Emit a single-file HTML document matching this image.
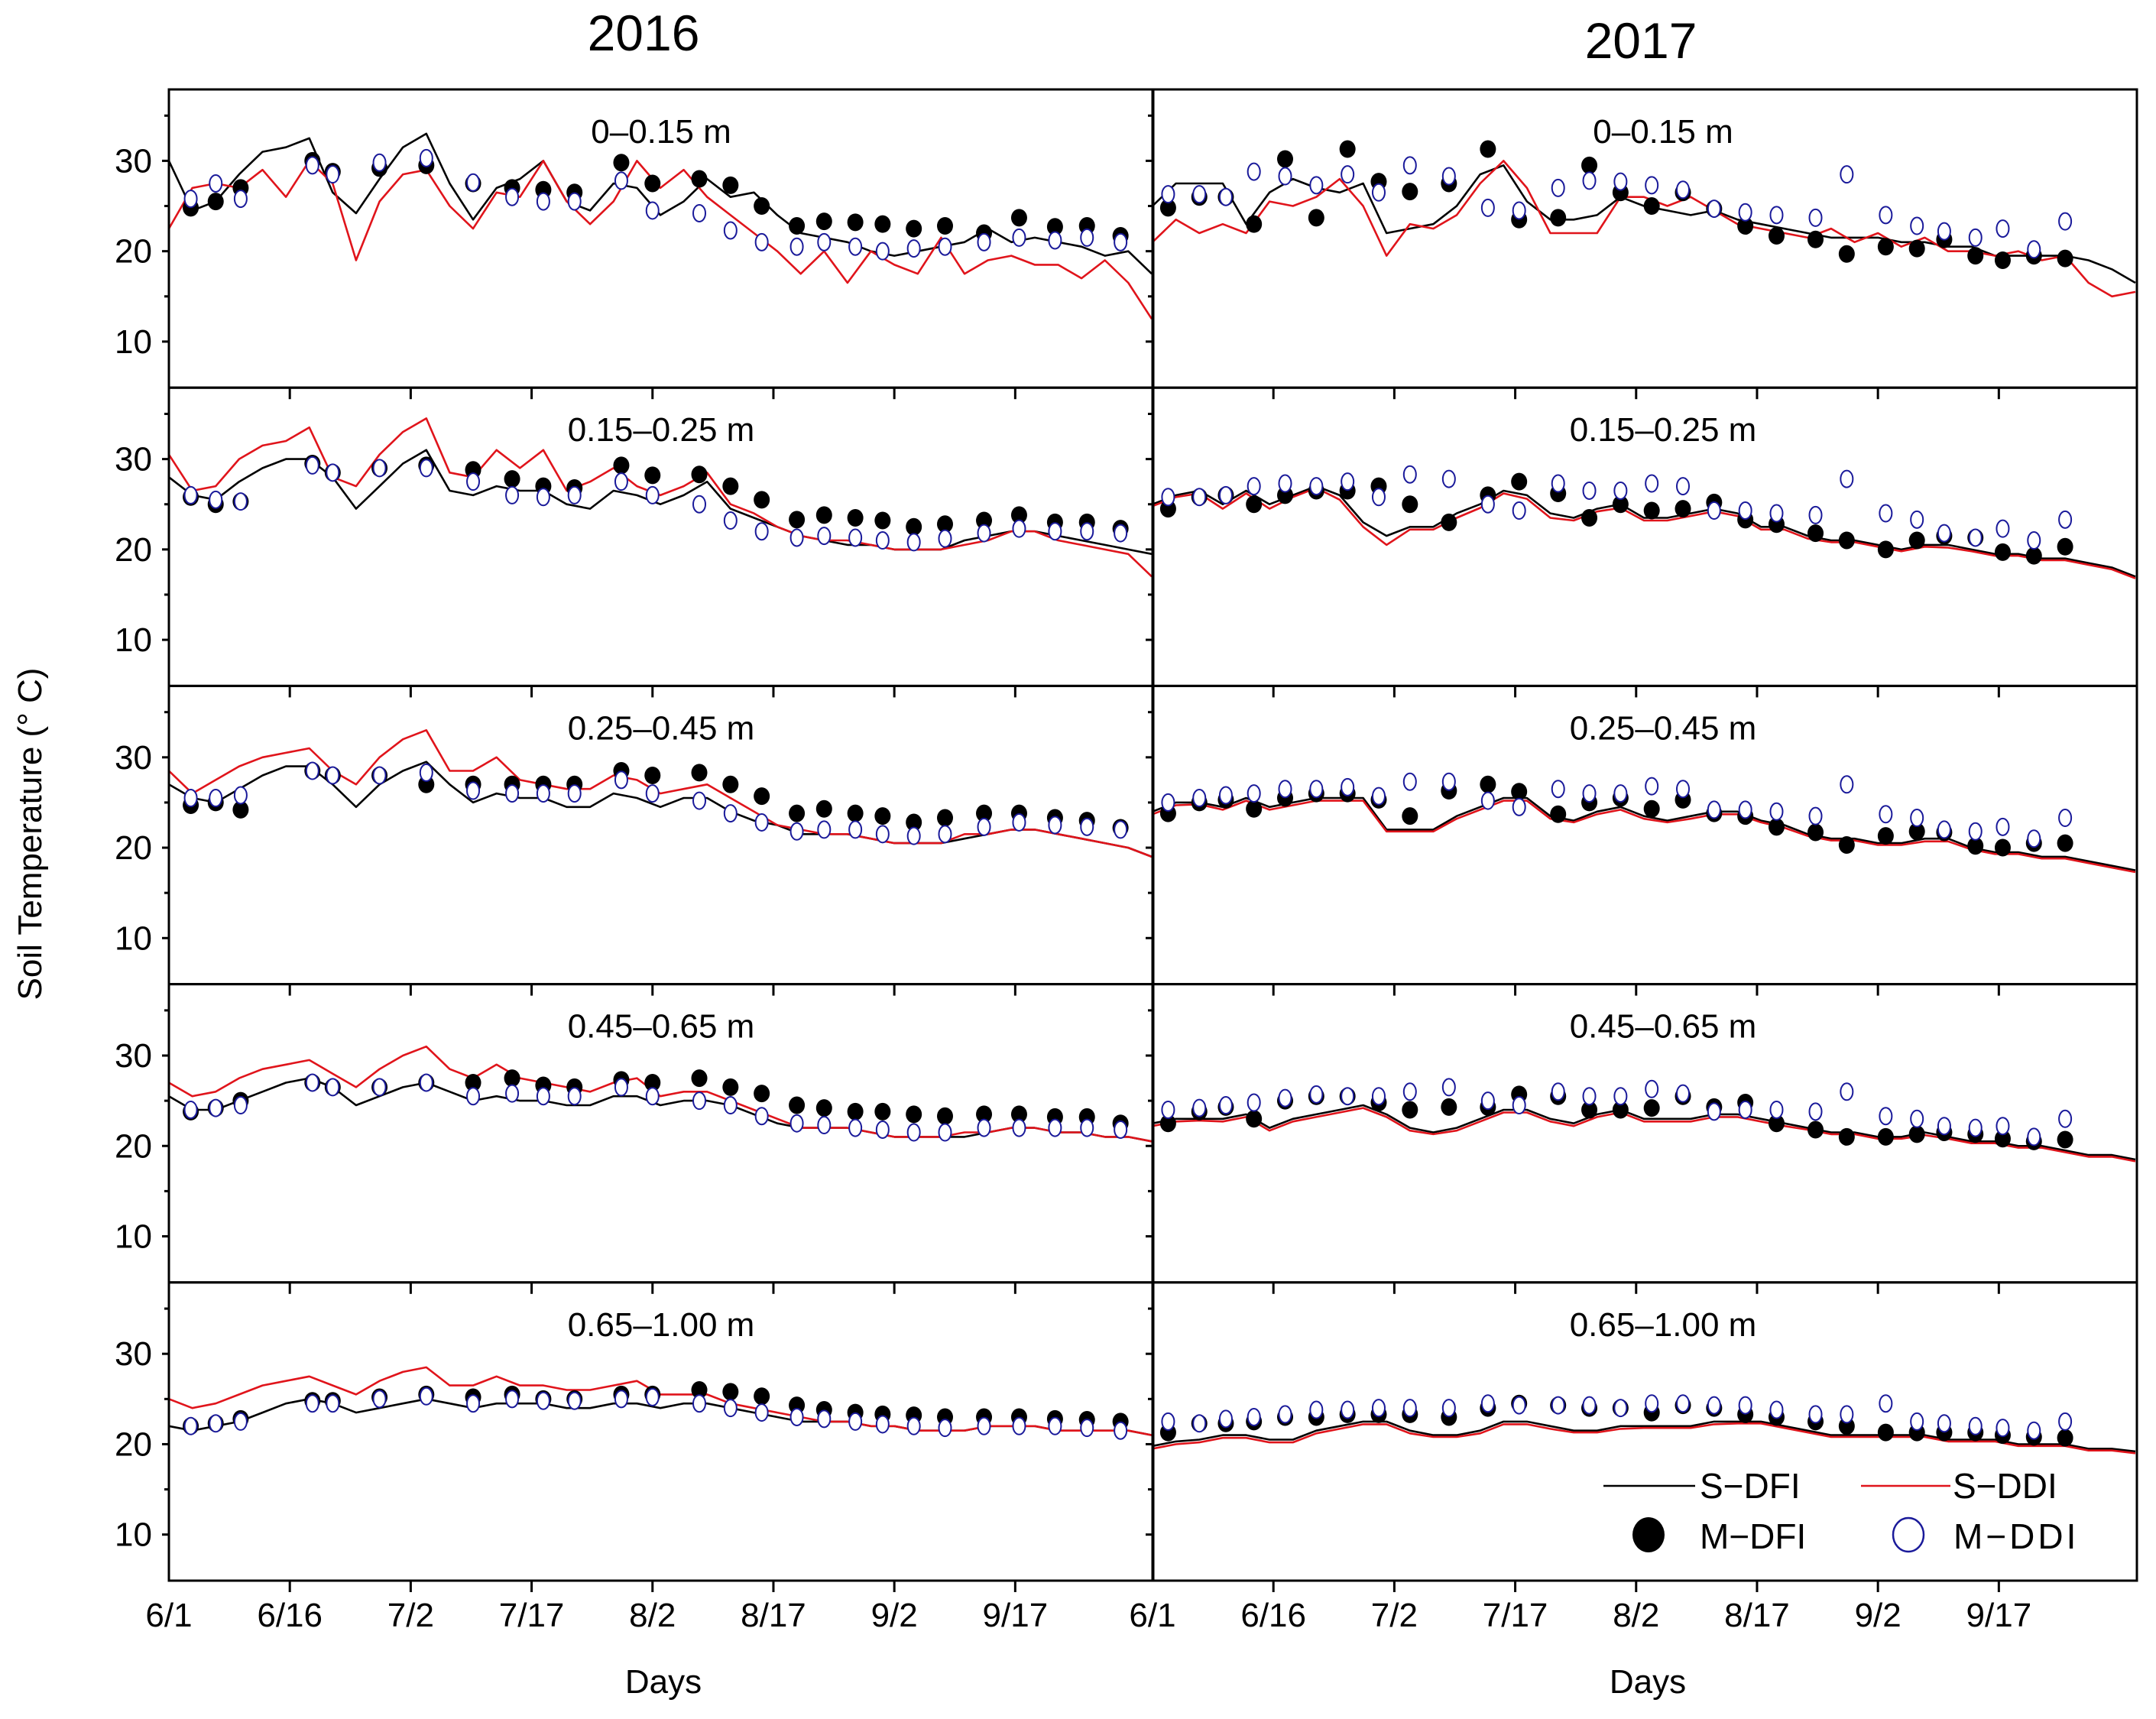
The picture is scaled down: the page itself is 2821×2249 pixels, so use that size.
<!DOCTYPE html>
<html><head><meta charset="utf-8">
<style>
html,body{margin:0;padding:0;background:#fff;}
svg{display:block;font-family:"Liberation Sans Narrow","Liberation Sans",sans-serif;}
</style></head>
<body>
<svg id="chart" width="2821" height="2249" viewBox="0 0 2821 2249" xmlns="http://www.w3.org/2000/svg"></svg>
<script>
// ---- data ----
const lineDays = [0,3,6,9,12,15,18,21,24,27,30,33,36,39,42,45,48,51,54,57,60,63,66,69,72,75,78,81,84,87,90,93,96,99,102,105,108,111,114,117,120,123,126];
const mDays2016 = [2.8,6,9.2,18.4,21,27,33,39,44,48,52,58,62,68,72,76,80.5,84,88,91.5,95.5,99.5,104.5,109,113.6,117.7,122];
const mDays2017 = [2,6,9.4,13,17,21,25,29,33,38,43,47,52,56,60,64,68,72,76,80,85,89,94,98,101.5,105.5,109,113,117];
const xTickLabels2016 = ["6/1","6/16","7/2","7/17","8/2","8/17","9/2","9/17"];
const xTickLabels2017 = ["6/1","6/16","7/2","7/17","8/2","8/17","9/2","9/17"];
const yTicks = [10,20,30];
const depths = ["0\u20130.15 m","0.15\u20130.25 m","0.25\u20130.45 m","0.45\u20130.65 m","0.65\u20131.00 m"];

// 2016
const sdfi2016_1 = [30,24.5,25.5,28.5,31,31.5,32.5,26.5,24.2,28,31.5,33,27.5,23.5,27,28,30,25.5,24.5,27.5,27,24,25.5,28,26,26.5,24,22,21.5,21,20,19.5,20,20.5,21,22.5,21,21.5,21,20.5,19.5,20,17.5];
const sddi2016_1 = [22.5,27,27.5,27,29,26,30,27.5,19,25.5,28.5,29,25,22.5,26.5,26,30,25.5,23,25.5,30,27,29,26,24,22,20,17.5,20,16.5,20,18.5,17.5,21.5,17.5,19,19.5,18.5,18.5,17,19,16.5,12.5];
const mdfi2016_1 = [24.8,25.5,27,30,28.8,29.2,29.5,27.5,27,26.8,26.5,29.8,27.5,28,27.3,25,22.8,23.3,23.2,23,22.5,22.8,22,23.7,22.7,22.8,21.7];
const mddi2016_1 = [25.8,27.5,25.8,29.5,28.5,29.8,30.3,27.6,26,25.5,25.5,27.8,24.5,24.2,22.3,21,20.5,21,20.5,20,20.3,20.5,21,21.5,21.2,21.5,21];

const sdfi2016_2 = [28,26,25.5,27.5,29,30,30,28,24.5,27,29.5,31,26.5,26,27,26.5,26.5,25,24.5,26.5,26,25,26,27.5,24.5,23.5,22.5,21.5,21,20.5,20.5,20,20,20,21,21.5,22,22,21.5,21,20.5,20,19.5];
const sddi2016_2 = [30.5,26.5,27,30,31.5,32,33.5,28,27,30.5,33,34.5,28.5,28,31,29,31,26.5,27.5,29,27,26,27,28.5,25,24,22.5,21.5,21,21,20.5,20,20,20,20.5,21,22,22,21,20.5,20,19.5,17];
const mdfi2016_2 = [25.8,25,25.3,29.5,28.5,29,29.3,28.8,27.8,27,26.8,29.3,28.2,28.3,27,25.5,23.3,23.8,23.5,23.2,22.5,22.8,23.2,23.8,23,23,22.3];
const mddi2016_2 = [26,25.5,25.3,29.3,28.5,29,29,27.5,26,25.8,26,27.5,26,25,23.2,22,21.3,21.5,21.3,21,20.8,21.2,21.8,22.3,22,22,21.8];

const sdfi2016_3 = [27,25.5,25,26.5,28,29,29,27,24.5,27,28.5,29.5,27,25,26,25.5,25.5,24.5,24.5,26,25.5,24.5,25.5,25.5,24,23,22.5,21.5,21.5,21.5,21,20.5,20.5,20.5,21,21.5,22,22,21.5,21,20.5,20,19];
const sddi2016_3 = [28.5,26,27.5,29,30,30.5,31,28.5,27,30,32,33,28.5,28.5,30,27.5,27,26.5,26.5,28,27.5,26,26.5,27,25.5,24,22.5,22,21.5,21.5,21,20.5,20.5,20.5,21.5,21.5,22,22,21.5,21,20.5,20,19];
const mdfi2016_3 = [24.7,25,24.2,28.5,28,28,27,27,27,27,27,28.5,28,28.3,27,25.7,23.8,24.3,23.8,23.5,22.8,23.3,23.8,23.8,23.3,23,22.2];
const mddi2016_3 = [25.5,25.5,25.8,28.5,28,28,28.3,26.3,26,26,26,27.5,26,25.2,23.8,22.8,21.8,22,22,21.5,21.3,21.5,22.3,22.8,22.5,22.3,22];

const sdfi2016_4 = [25.5,24,24,25,26,27,27.5,26.5,24.5,25.5,26.5,27,26,25,25.5,25,25,24.5,24.5,25.5,25.5,24.5,25,25,24.5,23.5,22.5,22,22,22,21.5,21,21,21,21,21.5,22,22,21.5,21.5,21,21,20.5];
const sddi2016_4 = [27,25.5,26,27.5,28.5,29,29.5,28,26.5,28.5,30,31,28.5,27.5,29,27.5,27,26.5,26,27,27.5,25.5,26,26,25,24,23,22,22,22,21.5,21,21,21,21.5,21.5,22,22,21.5,21.5,21,21,20.5];
const mdfi2016_4 = [23.8,24.2,25,27,26.5,26.5,27,27,27.5,26.7,26.5,27.3,27,27.5,26.5,25.8,24.5,24.2,23.8,23.8,23.5,23.3,23.5,23.5,23.2,23.2,22.5];
const mddi2016_4 = [24,24.2,24.5,27,26.5,26.5,27,25.5,25.8,25.5,25.5,26.5,25.5,25,24.5,23.3,22.5,22.3,22,21.8,21.5,21.5,22,22,22,22,21.8];

const sdfi2016_5 = [22,21.5,22,22.5,23.5,24.5,25,24.5,23.5,24,24.5,25,24.5,24,24.5,24.5,24.5,24,24,24.5,24.5,24,24.5,24.5,24,23.5,23,22.5,22.5,22.5,22,22,21.5,21.5,21.5,22,22,22,21.5,21.5,21.5,21.5,21];
const sddi2016_5 = [25,24,24.5,25.5,26.5,27,27.5,26.5,25.5,27,28,28.5,26.5,26.5,27.5,26.5,26.5,26,26,26.5,27,25.5,25.5,25.5,24.5,24,23.5,23,22.5,22.5,22,22,21.5,21.5,21.5,22,22,22,21.5,21.5,21.5,21.5,21];
const mdfi2016_5 = [22,22.3,22.8,24.8,24.8,25.2,25.5,25.2,25.5,25,25,25.5,25.5,26,25.8,25.3,24.3,23.8,23.5,23.3,23.2,23,23,23,22.8,22.7,22.5];
const mddi2016_5 = [22,22.3,22.5,24.5,24.5,25,25.3,24.5,25,24.8,24.8,25,25.2,24.5,24,23.5,23,22.8,22.5,22.2,22,21.8,22,22,22,21.8,21.5];

// 2017
const sdfi2017_1 = [25,27.5,27.5,27.5,23,26.5,28,27,26.5,27.5,22,22.5,23,25,28.5,29.5,25.5,23.5,23.5,24,26,25,24.5,24,24.5,23.5,23,22.5,22,21.5,21.5,21.5,21,21,20.5,20.5,19.5,19.5,19.5,19.5,19,18,16.5];
const sddi2017_1 = [21,23.5,22,23,22,25.5,25,26,28,25,19.5,23,22.5,24,27.5,30,27,22,22,22,26,26,25,26,24.5,23,22.5,22,21.5,22.5,21,22,20.5,21.5,20,20,19.5,20,19,19.5,16.5,15,15.5];
const mdfi2017_1 = [24.8,26,26,23,30.2,23.7,31.3,27.7,26.6,27.5,31.3,23.5,23.7,29.5,26.5,25,26.5,24.7,22.8,21.7,21.3,19.7,20.5,20.3,21.3,19.5,19,19.5,19.2];
const mddi2017_1 = [26.3,26.3,26,28.8,28.3,27.3,28.5,26.5,29.5,28.3,24.8,24.5,27,27.8,27.7,27.3,26.8,24.7,24.3,24,23.7,28.5,24,22.8,22.2,21.5,22.5,20.2,23.3];

const sdfi2017_2 = [25,26,26.5,25,26.5,25,26,27,26,23,21.5,22.5,22.5,24,25,26.5,26,24,23.5,24.5,25,23.5,23.5,24,24.5,24,22.5,22.5,21.5,21,21,20.5,20,20.5,20.5,20,19.5,19.5,19,19,18.5,18,17];
const sddi2017_2 = [24.8,25.8,26.2,24.5,26.2,24.5,25.8,26.8,25.5,22.5,20.5,22.2,22.2,23.5,24.6,26.2,25.6,23.5,23.2,24.2,24.6,23.2,23.2,23.7,24.2,23.7,22.2,22.2,21.2,20.8,20.8,20.3,19.8,20.3,20.2,19.8,19.3,19.3,18.8,18.8,18.3,17.8,16.8];
const mdfi2017_2 = [24.5,25.8,26,25,26,26.5,26.5,27,25,23,26,27.5,26.2,23.5,25,24.3,24.5,25.2,23.3,22.8,21.8,21,20,21,21.5,21.3,19.7,19.3,20.3];
const mddi2017_2 = [25.8,25.8,26,27,27.3,27,27.5,25.8,28.3,27.8,25,24.3,27.3,26.5,26.5,27.3,27,24.3,24.3,24,23.8,27.8,24,23.3,21.8,21.3,22.3,21,23.3];

const sdfi2017_3 = [24,25,25,24.5,25.5,24.5,25,25.5,25.5,25.5,22,22,22,23.5,24.5,25.5,25.5,23.5,23,24,24.5,23.5,23,23.5,24,24,23,22.5,21.5,21,21,20.5,20.5,21,21,20,19.5,19.5,19,19,18.5,18,17.5];
const sddi2017_3 = [23.7,24.7,24.8,24.2,25.2,24.2,24.7,25.2,25.2,25.2,21.8,21.8,21.8,23.2,24.2,25.2,25.2,23.2,22.8,23.7,24.2,23.2,22.8,23.2,23.7,23.7,22.8,22.2,21.3,20.8,20.8,20.3,20.3,20.7,20.7,19.8,19.3,19.3,18.8,18.8,18.3,17.8,17.3];
const mdfi2017_3 = [23.8,25,25.3,24.3,25.5,26,26,25.3,23.5,26.3,27,26.2,23.7,25,25.5,24.3,25.3,23.8,23.5,22.3,21.7,20.3,21.3,21.8,21.7,20.2,20,20.5,20.5];
const mddi2017_3 = [25,25.5,25.8,26,26.5,26.5,26.7,25.7,27.3,27.3,25.2,24.5,26.5,26,26,26.8,26.5,24.2,24.2,24,23.5,27,23.7,23.3,22,21.8,22.3,21,23.3];

const sdfi2017_4 = [22.5,23,23,23,23.5,22,23,23.5,24,24.5,23.5,22,21.5,22,23,24,24,23,22.5,23.5,24,23,23,23,23.5,23.5,23,22.5,22,21.5,21.5,21,21,21.5,21,20.5,20.5,20,20,19.5,19,19,18.5];
const sddi2017_4 = [22.2,22.7,22.8,22.7,23.2,21.7,22.7,23.2,23.7,24.2,23.2,21.7,21.3,21.7,22.7,23.7,23.7,22.7,22.2,23.2,23.7,22.7,22.7,22.7,23.2,23.2,22.7,22.2,21.8,21.3,21.3,20.8,20.8,21.2,20.8,20.3,20.3,19.8,19.8,19.3,18.8,18.8,18.3];
const mdfi2017_4 = [22.5,23.8,24.3,23,25,25.5,25.5,24.8,24,24.3,24.3,25.7,25.5,24,24,24.2,25.5,24.3,24.8,22.5,21.8,21,21,21.3,21.5,21.3,20.8,20.5,20.7];
const mddi2017_4 = [24,24.2,24.5,24.8,25.3,25.7,25.5,25.5,26,26.5,25,24.5,26,25.5,25.5,26.3,25.8,23.8,24,24,23.8,26,23.3,23,22.2,22,22.2,21,23];

const sdfi2017_5 = [19.8,20.3,20.5,21,21,20.5,20.5,21.5,22,22.5,22.5,21.5,21,21,21.5,22.5,22.5,22,21.5,21.5,22,22,22,22,22.5,22.5,22.5,22,21.5,21,21,21,21,21,20.5,20.5,20.5,20,20,20,19.5,19.5,19.2];
const sddi2017_5 = [19.5,20,20.2,20.7,20.7,20.2,20.2,21.2,21.7,22.2,22.2,21.2,20.8,20.8,21.2,22.2,22.2,21.7,21.3,21.3,21.7,21.8,21.8,21.8,22.2,22.3,22.3,21.8,21.3,20.8,20.8,20.8,20.8,20.8,20.3,20.3,20.3,19.8,19.8,19.8,19.3,19.3,19];
const mdfi2017_5 = [21.3,22.3,22.3,22.5,23,23,23.3,23.3,23.3,23,24,24.5,24.3,24,24,23.5,24.3,24,23.3,23,22.5,22,21.3,21.3,21.3,21.3,21,20.8,20.7];
const mddi2017_5 = [22.5,22.3,22.8,23,23.3,23.8,23.8,24,24,24,24.5,24.3,24.3,24.3,24,24.5,24.5,24.3,24.3,23.8,23.3,23.3,24.5,22.5,22.3,22,21.8,21.5,22.5];

const panels2016 = [
 [sdfi2016_1,sddi2016_1,mdfi2016_1,mddi2016_1],[sdfi2016_2,sddi2016_2,mdfi2016_2,mddi2016_2],
 [sdfi2016_3,sddi2016_3,mdfi2016_3,mddi2016_3],[sdfi2016_4,sddi2016_4,mdfi2016_4,mddi2016_4],
 [sdfi2016_5,sddi2016_5,mdfi2016_5,mddi2016_5]];
const panels2017 = [
 [sdfi2017_1,sddi2017_1,mdfi2017_1,mddi2017_1],[sdfi2017_2,sddi2017_2,mdfi2017_2,mddi2017_2],
 [sdfi2017_3,sddi2017_3,mdfi2017_3,mddi2017_3],[sdfi2017_4,sddi2017_4,mdfi2017_4,mddi2017_4],
 [sdfi2017_5,sddi2017_5,mdfi2017_5,mddi2017_5]];

// ---- layout ----
const svg = document.getElementById('chart');
const NS = 'http://www.w3.org/2000/svg';
const colX = [221, 1508];
const colW = 1288;
const panelTop = 117, panelH = 390.2;
const yMin = 4.9, yMax = 37.9, dMax = 126.2;
const tickStep = colW / dMax * 15.5;

function mk(tag, attrs, parent) {
  const e = document.createElementNS(NS, tag);
  for (const k in attrs) e.setAttribute(k, attrs[k]);
  (parent || svg).appendChild(e);
  return e;
}
function xs(col, d) { return colX[col] + d / dMax * colW; }
function ys(row, v) { return panelTop + row * panelH + (yMax - v) / (yMax - yMin) * panelH; }

function drawPanel(col, row, series, mdays) {
  const g = mk('g', {});
  
  
  const x0 = colX[col], y0 = panelTop + row * panelH;
  for (let v = 10; v <= 35; v += 5) {
    const len = (v % 10 === 0) ? 9 : 6;
    const t = mk('line', {x1: x0 - len, x2: x0, y1: ys(row, v), y2: ys(row, v), stroke: '#000', 'stroke-width': 3}, g);
    
    
    if (col === 0 && yTicks.includes(v)) {
      const tl = mk('text', {x: 199, y: ys(row, v) + 15, 'text-anchor': 'end', 'font-size': 44}, g);
      tl.textContent = v;
      
      
    }
  }
  for (let k = 1; k < 8; k++) {
    const tx = x0 + k * tickStep;
    const t = mk('line', {x1: tx, x2: tx, y1: y0 + panelH, y2: y0 + panelH + 15, stroke: '#000', 'stroke-width': 3}, g);
    
    
  }
  const dl = mk('text', {x: x0 + colW / 2 + (col ? 24 : 0), y: y0 + 70, 'text-anchor': 'middle', 'font-size': 44}, g);
  dl.textContent = depths[row];
  
  
  const colors = ['#000', '#e0141b'];
  for (let s = 0; s < 2; s++) {
    const vals = series[s];
    let d = '';
    for (let i = 0; i < vals.length && i < lineDays.length; i++) d += (i ? 'L' : 'M') + xs(col, lineDays[i]).toFixed(1) + ',' + ys(row, vals[i]).toFixed(1);
    const p = mk('path', {d: d, fill: 'none', stroke: colors[s], 'stroke-width': 2.6, 'stroke-linejoin': 'round'}, g);
    
    
  }
  const f = series[2], o = series[3];
  for (let i = 0; i < f.length && i < mdays.length; i++) {
    const c = mk('ellipse', {cx: xs(col, mdays[i]), cy: ys(row, f[i]), rx: 10.5, ry: 11.5, fill: '#000'}, g);
    
    
  }
  for (let i = 0; i < o.length && i < mdays.length; i++) {
    const c = mk('ellipse', {cx: xs(col, mdays[i]), cy: ys(row, o[i]), rx: 8, ry: 11, fill: '#fff', stroke: '#1a1a9a', 'stroke-width': 2}, g);
    
    
  }
}

for (let r = 0; r < 5; r++) {
  drawPanel(0, r, panels2016[r], mDays2016);
  drawPanel(1, r, panels2017[r], mDays2017);
}
for (let c = 0; c < 2; c++) {
  for (let r = 0; r < 5; r++) {
    const fr = mk('rect', {x: colX[c], y: panelTop + r * panelH, width: colW, height: panelH, fill: 'none', stroke: '#000', 'stroke-width': 3});
    
    
  }
}
const xLabY = 2128;
for (let k = 0; k < 8; k++) {
  const t = mk('text', {x: colX[0] + k * tickStep, y: xLabY, 'text-anchor': 'middle', 'font-size': 44});
  t.textContent = xTickLabels2016[k];
  
  
}
for (let k = 0; k < 8; k++) {
  const t = mk('text', {x: colX[1] + k * tickStep, y: xLabY, 'text-anchor': 'middle', 'font-size': 44});
  t.textContent = xTickLabels2017[k];
  
  
}
function txt(x, y, s, size, extra) {
  const t = mk('text', Object.assign({x: x, y: y, 'text-anchor': 'middle', 'font-size': size}, extra || {}));
  t.textContent = s;
  return t;
}
let t;
t = txt(868, 2215, 'Days', 44);  
t = txt(2156, 2215, 'Days', 44);  
t = txt(842, 66, '2016', 66);  
t = txt(2147, 76, '2017', 66);  
t = txt(54, 1091, 'Soil Temperature (\u00b0 C)', 44, {transform: 'rotate(-90 54 1091)'});  
const lg = mk('g', {});


let e;
e = mk('line', {x1: 2098, x2: 2218, y1: 1944, y2: 1944, stroke: '#000', 'stroke-width': 2.6}, lg);
 
e = mk('text', {x: 2224, y: 1960, 'font-size': 46}, lg); e.textContent = 'S\u2212DFI';
 
e = mk('line', {x1: 2435, x2: 2552, y1: 1944, y2: 1944, stroke: '#e0141b', 'stroke-width': 2.6}, lg);
 
e = mk('text', {x: 2555, y: 1960, 'font-size': 46}, lg); e.textContent = 'S\u2212DDI';
 
e = mk('ellipse', {cx: 2157, cy: 2008, rx: 21, ry: 23, fill: '#000'}, lg);
 
e = mk('text', {x: 2224, y: 2026, 'font-size': 46}, lg); e.textContent = 'M\u2212DFI';
 
e = mk('ellipse', {cx: 2497, cy: 2008, rx: 20, ry: 22, fill: 'none', stroke: '#1a1a9a', 'stroke-width': 2.5}, lg);
 
e = mk('text', {x: 2556, y: 2026, 'font-size': 46, 'letter-spacing': 4}, lg); e.textContent = 'M\u2212DDI';
 
</script>
</body></html>
